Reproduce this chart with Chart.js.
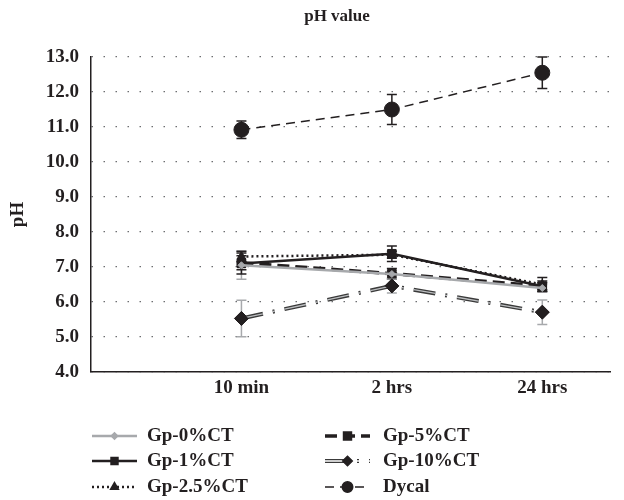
<!DOCTYPE html>
<html>
<head>
<meta charset="utf-8">
<script src="https://cdn.jsdelivr.net/npm/chart.js@4.4.0/dist/chart.umd.min.js"></script>
<style>
  html, body { margin: 0; padding: 0; background: #fff; }
</style>
</head>
<body>
<canvas id="graph" width="624" height="500"></canvas>
<script>
const categories = ['10 min', '2 hrs', '24 hrs']
const seriesNames = ['Gp-0%CT', 'Gp-1%CT', 'Gp-2.5%CT', 'Gp-5%CT', 'Gp-10%CT', 'Dycal']

const gp0 = [7.05, 6.8, 6.4]
const gp1 = [7.1, 7.38, 6.45]
const gp25 = [7.3, 7.35, 6.5]
const gp5 = [7.12, 6.81, 6.45]
const gp10 = [5.53, 6.46, 5.71]
const dycal = [10.92, 11.5, 12.55]

const gp0Err = [0.4, 0.1, 0.1]
const gp1Err = [0.3, 0.22, 0.15]
const gp25Err = [0.15, 0.1, 0.2]
const gp5Err = [0.2, 0.15, 0.1]
const gp10Err = [0.52, 0.2, 0.35]
const dycalErr = [0.25, 0.43, 0.45]

const yTicks = [4, 5, 6, 7, 8, 9, 10, 11, 12, 13]

const values = [gp0, gp1, gp25, gp5, gp10, dycal]
const errors = [gp0Err, gp1Err, gp25Err, gp5Err, gp10Err, dycalErr]

const ink = '#231f20'
const serif = "'Liberation Serif', 'DejaVu Serif', serif"

const styles = [
  { color: '#a7a9ac', pointColor: '#a7a9ac', width: 2.5, dash: [], point: 'rectRot', radius: 3.5, errColor: '#a7a9ac' },
  { color: ink, pointColor: ink, width: 2.5, dash: [], point: 'rect', radius: 6, errColor: ink },
  { color: ink, pointColor: ink, width: 2.5, dash: [2, 3], point: 'triangle', radius: 5, errColor: ink },
  { color: ink, pointColor: ink, width: 3.5, dash: [12, 6], point: 'rect', radius: 6, errColor: ink },
  { color: '#3a3a3a', pointColor: ink, width: 4, dash: [22, 10, 2, 10], point: 'rectRot', radius: 7, errColor: '#a7a9ac', inner: '#bcbec0' },
  { color: ink, pointColor: ink, width: 1.5, dash: [9, 6], point: 'circle', radius: 7.5, errColor: ink }
]

// error bars, drawn under the lines
const errorBars = {
  id: 'errorBars',
  beforeDatasetsDraw(chart) {
    const { ctx, scales: { x, y } } = chart
    ctx.save()
    errors.forEach((errs, d) => {
      ctx.strokeStyle = styles[d].errColor
      ctx.lineWidth = 1.5
      errs.forEach((e, i) => {
        const v = values[d][i]
        const px = x.getPixelForValue(i + 1)
        const top = y.getPixelForValue(v + e)
        const bot = y.getPixelForValue(v - e)
        ctx.beginPath()
        ctx.moveTo(px, top)
        ctx.lineTo(px, bot)
        ctx.moveTo(px - 5, top)
        ctx.lineTo(px + 5, top)
        ctx.moveTo(px - 5, bot)
        ctx.lineTo(px + 5, bot)
        ctx.stroke()
      })
    })
    ctx.restore()
  }
}

// light core for the double line of Gp-10%CT
const doubleLine = {
  id: 'doubleLine',
  afterDatasetDraw(chart, args) {
    const s = styles[args.index]
    if (!s.inner) return
    const { ctx } = chart
    const pts = args.meta.data
    ctx.save()
    ctx.strokeStyle = s.inner
    ctx.lineWidth = 1.3
    ctx.setLineDash(s.dash)
    ctx.beginPath()
    pts.forEach((p, i) => (i ? ctx.lineTo(p.x, p.y) : ctx.moveTo(p.x, p.y)))
    ctx.stroke()
    ctx.setLineDash([])
    ctx.fillStyle = s.pointColor
    pts.forEach(p => Chart.helpers.drawPoint(ctx, { pointStyle: s.point, radius: s.radius, borderWidth: 0, rotation: 0 }, p.x, p.y))
    ctx.restore()
  }
}

// title + two column legend
const extras = {
  id: 'extras',
  afterDraw(chart) {
    const { ctx } = chart
    ctx.save()
    ctx.fillStyle = ink
    ctx.font = 'bold 17px ' + serif
    ctx.textAlign = 'center'
    ctx.textBaseline = 'middle'
    ctx.fillText('pH value', 337, 17)

    ctx.font = 'bold 19px ' + serif
    const cols = [{ ix: 92, tx: 147 }, { ix: 325, tx: 383 }]
    const rows = [436, 461, 487]
    seriesNames.forEach((name, i) => {
      const c = cols[Math.floor(i / 3)]
      const yy = rows[i % 3]
      const s = styles[i]
      ctx.strokeStyle = s.color
      ctx.lineWidth = s.width
      ctx.setLineDash(s.dash)
      ctx.beginPath()
      ctx.moveTo(c.ix, yy)
      ctx.lineTo(c.ix + 45, yy)
      ctx.stroke()
      if (s.inner) {
        ctx.strokeStyle = '#fff'
        ctx.lineWidth = 1.3
        ctx.beginPath()
        ctx.moveTo(c.ix, yy)
        ctx.lineTo(c.ix + 45, yy)
        ctx.stroke()
      }
      ctx.setLineDash([])
      ctx.fillStyle = s.pointColor
      ctx.strokeStyle = s.pointColor
      Chart.helpers.drawPoint(ctx, { pointStyle: s.point, radius: s.radius * 0.7, borderWidth: 1, rotation: 0 }, c.ix + 22.5, yy)
      ctx.fillStyle = ink
      ctx.textAlign = 'left'
      ctx.fillText(name, c.tx, yy)
    })
    ctx.restore()
  }
}

new Chart(document.getElementById('graph'), {
  type: 'line',
  plugins: [errorBars, doubleLine, extras],
  data: {
    datasets: seriesNames.map((name, d) => ({
      label: name,
      data: categories.map((c, i) => ({ x: i + 1, y: values[d][i] })),
      borderColor: styles[d].color,
      backgroundColor: styles[d].pointColor,
      pointBorderColor: styles[d].pointColor,
      borderWidth: styles[d].width,
      borderDash: styles[d].dash,
      pointStyle: styles[d].point,
      pointRadius: styles[d].radius,
      pointBorderWidth: 1,
      tension: 0
    }))
  },
  options: {
    responsive: false,
    animation: false,
    layout: { padding: { top: 57, right: 14, bottom: 100, left: 0 } },
    plugins: { legend: { display: false }, tooltip: { enabled: false } },
    scales: {
      x: {
        type: 'linear',
        min: 0,
        max: 3.45,
        afterBuildTicks: s => { s.ticks = categories.map((c, i) => ({ value: i + 1 })) },
        afterFit: s => { s.height = 28 },
        border: { color: ink, width: 1.5 },
        grid: { display: false, drawTicks: false },
        ticks: {
          autoSkip: false,
          padding: 5,
          color: ink,
          font: { family: serif, size: 19, weight: 'bold' },
          callback: v => categories[v - 1] || ''
        }
      },
      y: {
        min: 4,
        max: 13,
        afterBuildTicks: s => { s.ticks = yTicks.map(v => ({ value: v })) },
        afterFit: s => { s.width = 91 },
        border: { color: ink, width: 1.5, dash: [1.5, 10.5] },
        grid: { color: '#6d6e71', lineWidth: 1.2, drawTicks: false },
        ticks: {
          padding: 12,
          color: ink,
          font: { family: serif, size: 19, weight: 'bold' },
          callback: v => v.toFixed(1)
        },
        title: {
          display: true,
          text: 'pH',
          color: ink,
          padding: 7,
          font: { family: serif, size: 19, weight: 'bold' }
        }
      }
    }
  }
})
</script>
</body>
</html>
